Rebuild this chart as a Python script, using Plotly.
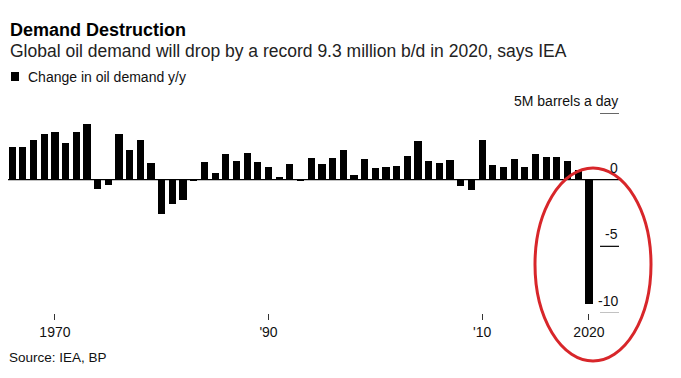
import plotly.graph_objects as go

years = list(range(1966, 2021))
demand_change = [
    2.43, 2.43, 2.95, 3.40, 3.60, 2.73, 3.55, 4.20, -0.73, -0.43,
    3.40, 2.20, 3.00, 1.23, -2.58, -1.85, -1.53, -0.13, 1.30, 0.48,
    1.90, 1.38, 1.98, 1.30, 0.93, 0.18, 1.15, -0.13, 1.65, 1.15,
    1.60, 2.20, 0.38, 1.58, 0.85, 0.93, 1.00, 1.75, 2.88, 1.38,
    1.23, 1.50, -0.50, -0.80, 3.00, 1.08, 0.98, 1.58, 0.98, 1.90,
    1.73, 1.73, 1.43, 0.75, -9.30,
]
x_tick_vals = [1970, 1990, 2010, 2020]
x_tick_text = ["1970", "'90", "'10", "2020"]
y_grid_vals = [5, 0, -5, -10]
y_grid_text = ["5M barrels a day", "0", "-5", "-10"]

# The page body has an 8px default margin; the figure is sized so that it
# fills the 681x378 window exactly.
OFF = 8
W, H = 681 - OFF, 378 - OFF
T, B = 113 - OFF, 65
PLOT_H = H - T - B
FONT = "Liberation Sans, Arial, sans-serif"


def py(p):
    """window pixel y -> paper y"""
    return (H - B - (p - OFF)) / PLOT_H


def px(p):
    """window pixel x -> paper x"""
    return (p - OFF) / W


fig = go.Figure()
fig.add_trace(go.Bar(
    x=years, y=demand_change, marker=dict(color="#000000", line=dict(width=0)),
    width=0.674, showlegend=False, name="Change in oil demand y/y",
))

X0 = 1965.607
X1 = 2028.622
fig.update_xaxes(
    range=[X0, X1], tickvals=x_tick_vals, ticktext=x_tick_text,
    ticks="outside", ticklen=6, tickwidth=1, tickcolor="#333333",
    showgrid=False, zeroline=False, showline=False,
    tickfont=dict(family=FONT, size=14, color="#111111"),
)
fig.update_yaxes(range=[-10, 5], showgrid=False, zeroline=False,
                 showticklabels=False, showline=False)

shapes = []
shapes.append(dict(type="line", xref="x", yref="y", x0=1965.61, x1=2022.91,
                   y0=0, y1=0, line=dict(color="#000000", width=1.2), layer="above"))
for v in y_grid_vals:
    if v == 0:
        continue
    col = "#999999" if v == -10 else "#000000"
    shapes.append(dict(type="line", xref="x", yref="y", x0=2021.04, x1=2022.82,
                       y0=v, y1=v, line=dict(color=col, width=1.2)))
shapes.append(dict(type="rect", xref="paper", yref="paper",
                   x0=px(11), x1=px(19), y0=py(81), y1=py(72),
                   fillcolor="#000000", line=dict(width=0)))
shapes.append(dict(type="circle", xref="paper", yref="paper",
                   x0=px(535), x1=px(651), y0=py(361), y1=py(168),
                   line=dict(color="#d8262a", width=3)))

annotations = [
    dict(text="<b>Demand Destruction</b>", x=px(8), y=py(30), xref="paper", yref="paper",
         xanchor="left", yanchor="middle", showarrow=False,
         font=dict(family=FONT, size=18, color="#000000")),
    dict(text="Global oil demand will drop by a record 9.3 million b/d in 2020, says IEA",
         x=px(8), y=py(51), xref="paper", yref="paper",
         xanchor="left", yanchor="middle", showarrow=False,
         font=dict(family=FONT, size=17.5, color="#222222")),
    dict(text="Change in oil demand y/y", x=px(25.5), y=py(77), xref="paper", yref="paper",
         xanchor="left", yanchor="middle", showarrow=False,
         font=dict(family=FONT, size=14, color="#111111")),
    dict(text="Source: IEA, BP", x=px(7.3), y=py(357), xref="paper", yref="paper",
         xanchor="left", yanchor="middle", showarrow=False,
         font=dict(family=FONT, size=13.5, color="#111111")),
]
for v, t in zip(y_grid_vals, y_grid_text):
    annotations.append(dict(text=t, x=2022.95, y=v, xref="x", yref="y",
                            xanchor="right", yanchor="middle", yshift=12,
                            showarrow=False,
                            font=dict(family=FONT, size=14, color="#111111")))

fig.update_layout(
    width=W, height=H, margin=dict(l=0, r=0, t=T, b=B),
    paper_bgcolor="#ffffff", plot_bgcolor="#ffffff",
    shapes=shapes, annotations=annotations, bargap=0, showlegend=False,
)
fig.write_html("out.html")
